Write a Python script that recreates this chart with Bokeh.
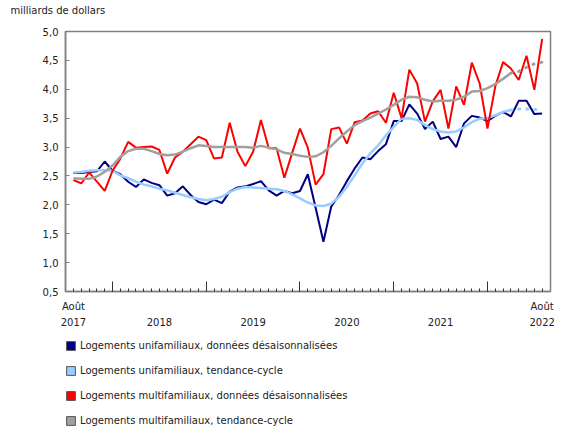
import pandas as pd
from bokeh.plotting import figure
from bokeh.layouts import column
from bokeh.models import Range1d, FixedTicker, LinearAxis, Legend, LegendItem
from bokeh.embed import file_html
from bokeh.resources import INLINE

# ---------------- data ----------------
months = pd.date_range("2017-08-01", "2022-08-01", freq="MS")  # Aug 2017 .. Aug 2022

uni_sa = [2.55, 2.55, 2.57, 2.58, 2.75, 2.59, 2.53, 2.40, 2.31, 2.44,
          2.38, 2.34, 2.16, 2.20, 2.32, 2.17, 2.05, 2.01, 2.09, 2.03,
          2.23, 2.30, 2.32, 2.36, 2.41, 2.25, 2.16, 2.24, 2.20, 2.24,
          2.53, 1.95, 1.36, 1.97, 2.17, 2.41, 2.63, 2.82, 2.79, 2.93,
          3.05, 3.45, 3.45, 3.74, 3.58, 3.31, 3.44, 3.14, 3.18, 3.00,
          3.41, 3.54, 3.51, 3.45, 3.54, 3.61, 3.53, 3.80, 3.80, 3.57,
          3.58]
uni_tc = [2.56, 2.57, 2.59, 2.60, 2.60, 2.59, 2.51, 2.46, 2.40, 2.35,
          2.32, 2.28, 2.25, 2.21, 2.17, 2.13, 2.10, 2.08, 2.10, 2.14,
          2.22, 2.28, 2.31, 2.30, 2.29, 2.28, 2.27, 2.24, 2.18, 2.11,
          2.04, 1.99, 1.98, 2.02, 2.14, 2.31, 2.51, 2.72, 2.89, 3.03,
          3.20, 3.35, 3.49, 3.50, 3.47, 3.38, 3.31, 3.27, 3.25, 3.27,
          3.34, 3.43, 3.49, 3.50, 3.55, 3.61, 3.64, 3.66, 3.66, 3.65,
          3.64]
multi_sa = [2.43, 2.37, 2.56, 2.40, 2.24, 2.59, 2.80, 3.09, 2.99, 3.00,
            3.01, 2.95, 2.54, 2.82, 2.92, 3.05, 3.18, 3.12, 2.80, 2.82,
            3.42, 2.92, 2.67, 2.92, 3.47, 2.98, 2.98, 2.47, 2.90, 3.32,
            2.99, 2.35, 2.53, 3.31, 3.34, 3.06, 3.43, 3.46, 3.58, 3.62,
            3.42, 3.94, 3.50, 4.34, 4.10, 3.44, 3.79, 3.99, 3.32, 4.05,
            3.73, 4.46, 4.10, 3.32, 4.05, 4.47, 4.36, 4.16, 4.58, 3.99,
            4.87]
multi_tc = [2.46, 2.45, 2.45, 2.49, 2.57, 2.68, 2.83, 2.93, 2.97, 2.97,
            2.93, 2.88, 2.86, 2.87, 2.92, 2.98, 3.03, 3.02, 3.00, 3.00,
            3.00, 3.00, 3.00, 2.99, 3.02, 2.99, 2.96, 2.90, 2.88, 2.85,
            2.83, 2.84, 2.91, 3.02, 3.15, 3.27, 3.38, 3.45, 3.51, 3.58,
            3.65, 3.73, 3.82, 3.87, 3.86, 3.82, 3.79, 3.80, 3.80, 3.82,
            3.87, 3.96, 3.97, 4.02, 4.09, 4.18, 4.28, 4.31, 4.38, 4.44,
            4.47]
n_provisional = 4   # last trend-cycle months drawn dotted

y_ticks = [0.5, 1.0, 1.5, 2.0, 2.5, 3.0, 3.5, 4.0, 4.5, 5.0]
y_tick_labels = ["0,5", "1,0", "1,5", "2,0", "2,5", "3,0", "3,5", "4,0", "4,5", "5,0"]
month_word = "Août"
y_unit = "milliards de dollars"

series_names = ["Logements unifamiliaux, données désaisonnalisées",
                "Logements unifamiliaux, tendance-cycle",
                "Logements multifamiliaux, données désaisonnalisées",
                "Logements multifamiliaux, tendance-cycle"]
series_colors = ["#000080", "#99ccff", "#ff0000", "#a0a0a0"]

FONT = "DejaVu Sans"
TXT = "#222222"
AX = "#808080"

x = list(range(len(months)))
jan_idx = [i for i, m in enumerate(months) if m.month == 1]
year_pos = [0] + [(a + b) / 2 for a, b in zip(jan_idx[:-1], jan_idx[1:])] + [x[-1]]
year_lab = [str(months[0].year)] + [str(months[a].year) for a in jan_idx[:-1]] + [str(months[-1].year)]


def bare(fig):
    fig.axis.visible = False
    fig.grid.visible = False
    fig.outline_line_color = None
    fig.background_fill_color = "white"
    fig.border_fill_color = "white"


# ---------------- caption strip (unit) ----------------
cap = figure(width=580, height=24, x_range=Range1d(0, 1), y_range=Range1d(0, 1),
             output_backend="svg", toolbar_location=None, title=y_unit,
             min_border_left=0, min_border_right=0, min_border_top=0, min_border_bottom=0)
bare(cap)
cap.title.text_font = FONT
cap.title.text_font_size = "10px"
cap.title.text_font_style = "normal"
cap.title.text_color = TXT
cap.title.align = "left"
cap.title.offset = -55
cap.title.standoff = 4

# ---------------- main chart ----------------
p = figure(width=580, height=311,
           x_range=Range1d(-1.02, 61.07), y_range=Range1d(0.5, 5.0),
           output_backend="svg", toolbar_location=None,
           min_border_left=65, min_border_right=30, min_border_top=7, min_border_bottom=44)

p.grid.visible = False
p.outline_line_color = AX
p.outline_line_width = 1.5
p.background_fill_color = "white"
p.border_fill_color = "white"

# y axis
ya = p.yaxis[0]
ya.ticker = FixedTicker(ticks=y_ticks)
ya.major_label_overrides = dict(zip(y_ticks, y_tick_labels))
ya.axis_line_color = AX
ya.axis_line_width = 1.5
ya.major_tick_line_color = AX
ya.major_tick_in = 4
ya.major_tick_out = 0
ya.minor_tick_line_color = None
ya.major_label_standoff = 7
ya.major_label_text_font = FONT
ya.major_label_text_font_size = "10px"
ya.major_label_text_color = TXT

# x axis 1: tick marks only (labels not drawn)
xa = p.xaxis[0]
xa.ticker = FixedTicker(ticks=jan_idx, minor_ticks=x)
xa.axis_line_color = AX
xa.axis_line_width = 1.5
xa.major_tick_line_color = "#333333"
xa.major_tick_in = 10
xa.major_tick_out = 0
xa.minor_tick_line_color = "#333333"
xa.minor_tick_in = 3
xa.minor_tick_out = 0
xa.major_label_text_font_size = "1px"
xa.major_label_text_color = None
xa.major_label_standoff = 0

# x axis 2: "Août" at first and last month
xa2 = LinearAxis(ticker=FixedTicker(ticks=[x[0], x[-1]], minor_ticks=[]),
                 major_label_overrides={x[0]: month_word, x[-1]: month_word},
                 axis_line_color=None, major_tick_line_color=None, minor_tick_line_color=None,
                 major_label_standoff=3, major_label_text_font=FONT,
                 major_label_text_font_size="10px", major_label_text_color=TXT)
p.add_layout(xa2, "below")

# x axis 3: years
xa3 = LinearAxis(ticker=FixedTicker(ticks=year_pos, minor_ticks=[]),
                 major_label_overrides=dict(zip(year_pos, year_lab)),
                 axis_line_color=None, major_tick_line_color=None, minor_tick_line_color=None,
                 major_label_standoff=-3, major_label_text_font=FONT,
                 major_label_text_font_size="10px", major_label_text_color=TXT)
p.add_layout(xa3, "below")

k = len(x) - n_provisional - 1
p.line(x, uni_sa, line_color=series_colors[0], line_width=2)
p.line(x[:k + 1], uni_tc[:k + 1], line_color=series_colors[1], line_width=2.5)
p.line(x[k:], uni_tc[k:], line_color=series_colors[1], line_width=3,
       line_dash="1 7", line_cap="round")
p.line(x, multi_sa, line_color=series_colors[2], line_width=2)
p.line(x[:k + 1], multi_tc[:k + 1], line_color=series_colors[3], line_width=2.5)
p.line(x[k:], multi_tc[k:], line_color=series_colors[3], line_width=3,
       line_dash="1 7", line_cap="round")

# ---------------- legend strip ----------------
lf = figure(width=580, height=100, x_range=Range1d(0, 1), y_range=Range1d(0, 1),
            output_backend="svg", toolbar_location=None,
            min_border_left=63, min_border_right=0, min_border_top=0, min_border_bottom=0)
bare(lf)

nan = float("nan")
items = []
for name, col in zip(series_names, series_colors):
    r = lf.quad(left=[nan], right=[nan], top=[nan], bottom=[nan], fill_color=col,
                line_color="#555555", line_width=1)
    items.append(LegendItem(label=name, renderers=[r]))

legend = Legend(items=items, location="top_left", orientation="vertical",
                glyph_width=11, glyph_height=11, label_standoff=4, spacing=5,
                label_height=20, padding=0, margin=0,
                border_line_color=None, background_fill_alpha=0,
                label_text_font=FONT, label_text_font_size="10px",
                label_text_color=TXT)
lf.add_layout(legend, "center")

layout = column(cap, p, lf, spacing=0)
open("out.html", "w").write(file_html(layout, INLINE))
